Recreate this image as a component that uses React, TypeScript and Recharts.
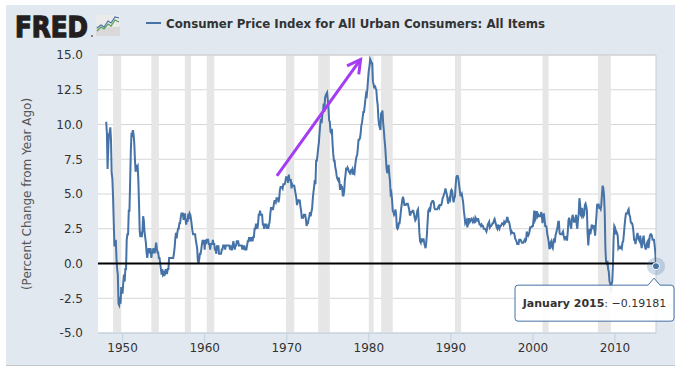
import React from 'react';
import {
  LineChart,
  Line,
  XAxis,
  YAxis,
  CartesianGrid,
  ReferenceArea,
  ReferenceLine,
  ReferenceDot,
} from 'recharts';

// Monthly CPI-U, percent change from year ago, starting January 1948
const startYear = 1948;
const cpi1940s = [
  10.2, 9.4, 6.8, 8.3, 9.3, 9.4, 9.8, 8.9, 6.5, 6.1, 4.8, 3.0,
  1.3, 1.3, 1.7, 0.4, -0.4, -0.8, -2.9, -3.0, -2.4, -2.9, -1.7, -2.1,
];
const cpi1950s = [
  -2.1, -1.3, -0.8, -1.3, -0.4, -0.4, 1.7, 2.1, 2.1, 3.8, 3.8, 5.9,
  8.1, 9.4, 9.3, 9.6, 9.3, 8.7, 7.5, 6.6, 7.0, 6.9, 7.0, 6.0,
  4.3, 2.3, 1.9, 2.3, 1.9, 2.3, 3.4, 3.1, 2.3, 1.9, 1.5, 0.8,
  0.4, 0.8, 1.1, 0.8, 0.8, 1.1, 0.4, 0.8, 0.8, 1.1, 0.8, 0.8,
  1.1, 1.5, 1.1, 0.8, 0.8, 0.4, 0.4, 0.0, -0.4, -0.8, -0.4, -0.8,
  -0.7, -0.9, -0.7, -0.4, -0.7, -0.7, -0.4, -0.4, 0.4, 0.4, 0.4, 0.4,
  0.4, 0.4, 0.4, 0.7, 1.1, 1.8, 2.2, 1.8, 2.2, 2.5, 2.5, 2.9,
  2.9, 3.3, 3.6, 3.6, 3.6, 3.2, 3.2, 3.6, 3.2, 2.8, 3.2, 3.0,
  3.6, 3.2, 3.6, 3.5, 3.2, 2.8, 2.4, 2.1, 2.1, 2.1, 2.1, 1.7,
  1.4, 1.1, 0.2, 0.0, 0.3, 0.7, 0.7, 1.0, 1.4, 1.7, 1.4, 1.7,
];
const cpi1960s = [
  1.0, 1.7, 1.4, 1.7, 1.7, 1.7, 1.4, 1.4, 1.0, 1.4, 1.4, 1.4,
  1.7, 1.4, 1.4, 1.0, 1.0, 0.7, 1.3, 1.0, 1.3, 0.7, 0.7, 0.7,
  0.7, 1.0, 1.0, 1.3, 1.3, 1.3, 1.0, 1.3, 1.3, 1.3, 1.3, 1.3,
  1.3, 1.0, 1.3, 1.0, 1.0, 1.3, 1.6, 1.3, 1.0, 1.3, 1.3, 1.6,
  1.6, 1.6, 1.3, 1.3, 1.3, 1.3, 1.3, 1.0, 1.3, 1.0, 1.3, 1.0,
  1.0, 1.0, 1.3, 1.6, 1.6, 1.9, 1.6, 1.9, 1.6, 1.9, 1.6, 1.9,
  1.9, 2.5, 2.5, 2.8, 2.8, 2.5, 2.8, 3.5, 3.5, 3.8, 3.5, 3.5,
  3.5, 2.8, 2.8, 2.5, 2.8, 2.8, 2.8, 2.5, 2.8, 2.5, 2.8, 3.0,
  3.6, 4.0, 4.0, 3.9, 3.9, 4.2, 4.5, 4.5, 4.4, 4.7, 4.7, 4.7,
  4.4, 4.7, 5.3, 5.5, 5.5, 5.5, 5.4, 5.7, 5.7, 5.7, 5.9, 6.2,
];
const cpi1970s = [
  6.2, 6.1, 5.8, 6.4, 6.0, 6.0, 6.0, 5.4, 5.7, 5.6, 5.6, 5.6,
  5.3, 5.0, 4.7, 4.2, 4.4, 4.6, 4.4, 4.6, 4.1, 3.8, 3.3, 3.3,
  3.3, 3.5, 3.5, 3.5, 3.2, 2.7, 2.9, 2.9, 3.2, 3.4, 3.7, 3.4,
  3.7, 3.9, 4.6, 5.1, 5.5, 6.0, 5.7, 7.4, 7.4, 7.8, 8.3, 8.7,
  9.4, 10.0, 10.4, 10.1, 10.7, 10.9, 11.5, 10.9, 11.9, 12.1, 12.2, 12.3,
  11.8, 11.2, 10.3, 10.2, 9.5, 9.4, 9.7, 8.6, 7.9, 7.4, 7.4, 6.9,
  6.7, 6.3, 6.1, 6.0, 6.2, 5.9, 5.3, 5.7, 5.5, 5.5, 4.9, 4.9,
  5.2, 6.0, 6.4, 6.9, 6.7, 6.9, 6.8, 6.6, 6.6, 6.4, 6.7, 6.7,
  6.8, 6.4, 6.6, 6.5, 7.0, 7.4, 7.7, 7.8, 8.3, 8.9, 8.9, 9.0,
  9.3, 9.9, 10.1, 10.5, 10.9, 10.9, 11.3, 11.8, 12.2, 12.1, 12.6, 13.3,
];
const cpi1980s = [
  13.9, 14.2, 14.7, 14.6, 14.4, 14.4, 13.1, 12.9, 12.6, 12.8, 12.6, 12.5,
  11.8, 11.4, 10.5, 10.0, 9.8, 9.6, 10.8, 10.8, 11.0, 10.1, 9.6, 8.9,
  8.4, 7.6, 6.8, 6.5, 6.7, 7.1, 6.4, 5.9, 5.0, 5.1, 4.6, 3.8,
  3.7, 3.5, 3.6, 3.9, 3.5, 2.6, 2.5, 2.6, 2.9, 2.9, 3.3, 3.8,
  4.2, 4.6, 4.8, 4.6, 4.2, 4.2, 4.2, 4.3, 4.3, 4.3, 4.1, 3.9,
  3.5, 3.5, 3.7, 3.7, 3.8, 3.8, 3.6, 3.3, 3.1, 3.2, 3.5, 3.8,
  3.9, 3.1, 2.2, 1.6, 1.5, 1.8, 1.6, 1.6, 1.8, 1.5, 1.3, 1.1,
  1.5, 2.1, 3.0, 3.8, 3.9, 3.7, 3.9, 4.3, 4.4, 4.5, 4.5, 4.4,
  4.0, 3.9, 3.9, 3.9, 3.9, 4.0, 4.1, 4.0, 4.2, 4.2, 4.2, 4.4,
  4.7, 4.8, 5.0, 5.1, 5.4, 5.2, 5.0, 4.7, 4.3, 4.5, 4.7, 4.6,
];
const cpi1990s = [
  5.2, 5.3, 5.2, 4.7, 4.4, 4.7, 4.8, 5.6, 6.2, 6.3, 6.3, 6.1,
  5.7, 5.3, 4.9, 4.9, 5.0, 4.7, 4.4, 3.8, 3.4, 2.9, 3.0, 3.1,
  2.6, 2.8, 3.2, 3.2, 3.0, 3.1, 3.2, 3.1, 3.0, 3.2, 3.1, 2.9,
  3.3, 3.2, 3.1, 3.2, 3.2, 3.0, 2.8, 2.8, 2.7, 2.8, 2.7, 2.7,
  2.5, 2.5, 2.5, 2.4, 2.3, 2.5, 2.8, 2.9, 3.0, 2.6, 2.7, 2.7,
  2.8, 2.9, 2.9, 3.1, 3.2, 3.0, 2.8, 2.6, 2.5, 2.8, 2.6, 2.5,
  2.7, 2.7, 2.8, 2.9, 2.9, 2.8, 3.0, 2.9, 3.0, 3.0, 3.3, 3.3,
  3.0, 3.0, 2.8, 2.5, 2.2, 2.3, 2.2, 2.2, 2.2, 2.1, 1.8, 1.7,
  1.6, 1.4, 1.4, 1.4, 1.7, 1.7, 1.7, 1.6, 1.5, 1.5, 1.5, 1.6,
  1.7, 1.6, 1.7, 2.3, 2.1, 2.0, 2.1, 2.3, 2.6, 2.6, 2.6, 2.7,
];
const cpi2000s = [
  2.7, 3.2, 3.8, 3.1, 3.2, 3.7, 3.7, 3.4, 3.5, 3.4, 3.4, 3.4,
  3.7, 3.5, 2.9, 3.3, 3.6, 3.2, 2.7, 2.7, 2.6, 2.1, 1.9, 1.6,
  1.1, 1.1, 1.5, 1.6, 1.2, 1.1, 1.5, 1.8, 1.5, 2.0, 2.2, 2.4,
  2.6, 3.0, 3.0, 2.2, 2.1, 2.1, 2.1, 2.2, 2.3, 2.0, 1.8, 1.9,
  1.9, 1.7, 1.7, 2.3, 3.1, 3.3, 3.0, 2.7, 2.5, 3.2, 3.5, 3.3,
  3.0, 3.0, 3.1, 3.5, 2.8, 2.5, 3.2, 3.6, 4.7, 4.3, 3.5, 3.4,
  4.0, 3.6, 3.4, 3.5, 4.2, 4.3, 4.1, 3.8, 2.1, 1.3, 2.0, 2.5,
  2.1, 2.4, 2.8, 2.6, 2.7, 2.7, 2.4, 2.0, 2.8, 3.5, 4.3, 4.1,
  4.3, 4.0, 4.0, 3.9, 4.2, 5.0, 5.6, 5.4, 4.9, 3.7, 1.1, 0.1,
  0.0, 0.2, -0.4, -0.6, -1.3, -1.4, -2.1, -1.5, -1.3, -0.2, 1.8, 2.7,
];
const cpi2010s = [
  2.6, 2.1, 2.3, 2.2, 2.0, 1.1, 1.2, 1.1, 1.1, 1.2, 1.1, 1.5,
  1.6, 2.1, 2.7, 3.2, 3.6, 3.6, 3.6, 3.8, 3.9, 3.5, 3.4, 3.0,
  2.9, 2.9, 2.7, 2.3, 1.7, 1.7, 1.4, 1.7, 2.0, 2.2, 1.8, 1.7,
  1.6, 2.0, 1.5, 1.1, 1.4, 1.8, 2.0, 1.5, 1.2, 1.0, 1.2, 1.5,
  1.6, 1.1, 1.5, 2.0, 2.1, 2.1, 2.0, 1.7, 1.7, 1.7, 1.3, 0.8,
  -0.19181,
];

// Recessions: [start year, start month (1-12), end year, end month]
const recessions: [number, number, number, number][] = [
  [1948, 11, 1949, 10],
  [1953, 7, 1954, 5],
  [1957, 8, 1958, 4],
  [1960, 4, 1961, 2],
  [1969, 12, 1970, 11],
  [1973, 11, 1975, 3],
  [1980, 1, 1980, 7],
  [1981, 7, 1982, 11],
  [1990, 7, 1991, 3],
  [2001, 3, 2001, 11],
  [2007, 12, 2009, 6],
];

const xTicks = [1950, 1960, 1970, 1980, 1990, 2000, 2010];
const yTicks = [-5, -2.5, 0, 2.5, 5, 7.5, 10, 12.5, 15];
const xDomain = [1947, 2015];
const yDomain = [-5, 15];

// Annotation arrow endpoints (data coordinates)
const arrowFrom = { x: 1968.8, y: 6.3 };
const arrowTo = { x: 1979.0, y: 14.68 };

const seriesTitle = 'Consumer Price Index for All Urban Consumers: All Items';
const axisTitle = '(Percent Change from Year Ago)';
const monthNames = [
  'January', 'February', 'March', 'April', 'May', 'June',
  'July', 'August', 'September', 'October', 'November', 'December',
];

const allValues = [
  ...cpi1940s, ...cpi1950s, ...cpi1960s, ...cpi1970s,
  ...cpi1980s, ...cpi1990s, ...cpi2000s, ...cpi2010s,
];
const data = allValues.map((v, i) => ({
  t: startYear + i / 12,
  year: startYear + Math.floor(i / 12),
  month: i % 12,
  cpi: v,
}));
const last = data[data.length - 1];

const FONT = '"DejaVu Sans", Verdana, sans-serif';
const LINE_COLOR = '#4572a7';
const ARROW_COLOR = '#a33cf2';

const ArrowShape = (p: any) => {
  const { x1, y1, x2, y2 } = p;
  const ang = Math.atan2(y1 - y2, x1 - x2);
  const len = 15;
  const spread = 0.5;
  const ax = x2 + len * Math.cos(ang + spread);
  const ay = y2 + len * Math.sin(ang + spread);
  const bx = x2 + len * Math.cos(ang - spread);
  const by = y2 + len * Math.sin(ang - spread);
  return (
    <g>
      <line x1={x1} y1={y1} x2={x2} y2={y2} stroke={ARROW_COLOR} strokeWidth={3} />
      <polyline
        points={`${ax},${ay} ${x2},${y2} ${bx},${by}`}
        fill="none"
        stroke={ARROW_COLOR}
        strokeWidth={3}
        strokeLinejoin="miter"
      />
    </g>
  );
};

const TipShape = (p: any) => {
  const { cx, cy } = p;
  const l = cx - 141;
  const t = cy + 19;
  const w = 159;
  const h = 36;
  const r = 3;
  const nx = cx - 2;
  const d = `M${l + r},${t} H${nx - 6} L${nx},${t - 7} L${nx + 6},${t} H${l + w - r} Q${l + w},${t} ${l + w},${t + r} V${t + h - r} Q${l + w},${t + h} ${l + w - r},${t + h} H${l + r} Q${l},${t + h} ${l},${t + h - r} V${t + r} Q${l},${t} ${l + r},${t} Z`;
  const valStr = last.cpi < 0 ? `\u2212${Math.abs(last.cpi)}` : `${last.cpi}`;
  return (
    <g>
      <path d={d} fill="#ffffff" fillOpacity={0.92} stroke={LINE_COLOR} strokeWidth={1} />
      <text
        x={l + w / 2}
        y={t + 22}
        textAnchor="middle"
        fontSize={11}
        fontFamily={FONT}
        fill="#333333"
      >
        <tspan fontWeight="bold">{`${monthNames[last.month]} ${last.year}`}</tspan>
        <tspan>{`: ${valStr}`}</tspan>
      </text>
      <circle cx={cx} cy={cy} r={9} fill={LINE_COLOR} fillOpacity={0.25} />
      <circle cx={cx} cy={cy} r={3.5} fill={LINE_COLOR} stroke="#ffffff" strokeWidth={1} />
    </g>
  );
};

export default function App() {
  return (
    <div
      style={{
        position: 'absolute',
        left: 0,
        top: 0,
        width: 679,
        height: 367,
        background: '#ffffff',
        fontFamily: FONT,
      }}
    >
      <div
        style={{
          position: 'absolute',
          left: 6,
          top: 5,
          width: 669,
          height: 360,
          background: '#e1e8f0',
          borderBottom: '1px solid #c4c8cc',
        }}
      />
      <svg
        width={679}
        height={367}
        style={{ position: 'absolute', left: 0, top: 0 }}
      >
        {/* FRED logo */}
        <text
          x={15}
          y={37}
          fontSize={29}
          fontWeight="bold"
          fontFamily={FONT}
          fill="#231f20"
          stroke="#231f20"
          strokeWidth={1.4}
          textLength={73}
          lengthAdjust="spacingAndGlyphs"
        >
          FRED
        </text>
        <circle cx={92} cy={36} r={0.9} fill="#555" />
        <rect x={96} y={15} width={24} height={21} rx={2} fill="#d9d9d9" />
        <rect x={96} y={15} width={24} height={12} rx={2} fill="#ebebeb" />
        <polyline
          points="97,31 101,27 104,29 108,24 111,26 115,20 119,22"
          fill="none"
          stroke="#5aa05a"
          strokeWidth={1.3}
        />
        <polyline
          points="97,28 101,25 104,27 108,21 111,23 115,17 119,18"
          fill="none"
          stroke="#4572a7"
          strokeWidth={1.1}
        />
        {/* legend */}
        <line x1={146} y1={23} x2={161} y2={23} stroke={LINE_COLOR} strokeWidth={2} />
        <text
          x={166}
          y={28}
          fontSize={12}
          fontWeight="bold"
          fontFamily={FONT}
          fill="#333333"
          textLength={379}
          lengthAdjust="spacingAndGlyphs"
        >
          {seriesTitle}
        </text>
        {/* y axis title */}
        <text
          x={0}
          y={0}
          transform="translate(31,194) rotate(-90)"
          textAnchor="middle"
          fontSize={12}
          fontFamily={FONT}
          fill="#555555"
        >
          {axisTitle}
        </text>
      </svg>
      <div style={{ position: 'absolute', left: 0, top: 0 }}>
        <LineChart
          width={679}
          height={367}
          data={data}
          margin={{ top: 55, right: 23, bottom: 0, left: 0 }}
        >
          <CartesianGrid
            vertical={false}
            stroke="#d6d6d6"
            fill="#ffffff"
            fillOpacity={1}
          />
          {recessions.map((r, i) => (
            <ReferenceArea
              key={i}
              x1={r[0] + (r[1] - 1) / 12}
              x2={r[2] + r[3] / 12}
              fill="#e6e6e6"
              fillOpacity={1}
              stroke="none"
            />
          ))}
          <XAxis
            type="number"
            dataKey="t"
            domain={xDomain}
            ticks={xTicks}
            allowDataOverflow
            height={34}
            stroke="#c0d0e0"
            tickSize={10}
            tickMargin={0}
            tick={{ fill: '#333333', fontSize: 12, fontFamily: FONT }}
          />
          <YAxis
            type="number"
            domain={yDomain}
            ticks={yTicks}
            width={98}
            axisLine={false}
            tickLine={false}
            tickSize={0}
            tickMargin={15}
            tickFormatter={(v: number) => v.toFixed(1)}
            tick={{ fill: '#333333', fontSize: 12, fontFamily: FONT }}
          />
          <ReferenceLine y={15} stroke="#cccccc" strokeWidth={1} />
          <ReferenceLine x={2015} stroke="#cccccc" strokeWidth={1} />
          <Line
            type="linear"
            dataKey="cpi"
            stroke={LINE_COLOR}
            strokeWidth={2}
            dot={false}
            activeDot={false}
            isAnimationActive={false}
          />
          <ReferenceLine y={0} stroke="#000000" strokeWidth={2} />
          <ReferenceLine
            segment={[arrowFrom, arrowTo]}
            shape={ArrowShape}
            ifOverflow="visible"
          />
          <ReferenceDot
            x={last.t}
            y={last.cpi}
            r={9}
            shape={TipShape}
            ifOverflow="visible"
          />
        </LineChart>
      </div>
    </div>
  );
}
